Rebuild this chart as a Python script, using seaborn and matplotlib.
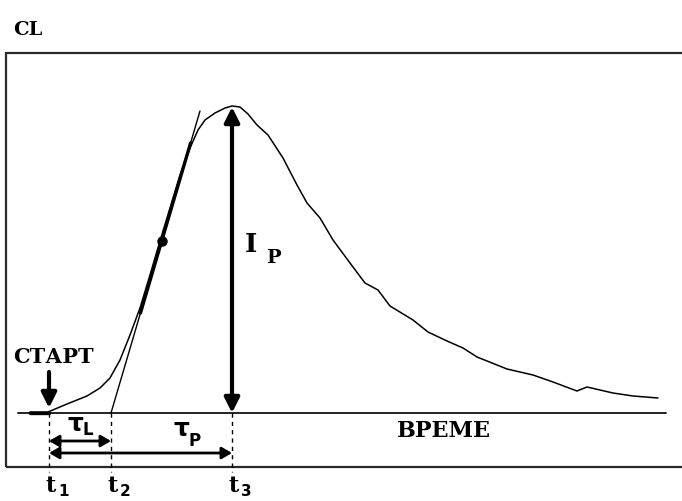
import matplotlib
matplotlib.use("Agg")
import matplotlib.pyplot as plt
from matplotlib.patches import Rectangle, FancyArrowPatch, ArrowStyle
import seaborn as sns
import pandas as pd

# Chemiluminescence kinetic curve (time, CL intensity), baseline at 0
time = [30, 48, 67, 87, 100, 110, 120, 130, 140, 150, 160, 170, 180, 190, 198,
        205, 215, 225, 232, 240, 248, 257, 268, 283, 297, 307, 320, 333, 350,
        365, 378, 390, 413, 428, 447, 463, 477, 507, 533, 553, 577, 587, 613,
        633, 658]
cl = [1, 1, 9, 17, 25, 35, 53, 78, 105, 138, 172, 205, 238, 265, 283,
      293, 300, 305, 307, 306, 299, 288, 278, 255, 228, 210, 195, 173, 150,
      130, 123, 107, 93, 81, 72, 65, 56, 44, 38, 31, 22, 26, 20, 17, 15]

# characteristic times and peak intensity
t1, t2, t3 = 49, 111, 232
ip = 307
# point of maximum slope on the rising edge and the tangent's top end
inflect_cl = 172
tangent_top = (200, 302)

time_labels = ["1", "2", "3"]

sns.set_theme(style="white")
plt.rcParams["font.family"] = ["DejaVu Serif", "DejaVu Sans"]
plt.rcParams["text.color"] = "black"

fig = plt.figure(figsize=(6.82, 5.01), dpi=100)
ax = fig.add_axes([0, 0, 1, 1])
ax.set_xlim(0, 682)
ax.set_ylim(-88, 413)
ax.axis("off")

# frame around the plot area
ax.add_patch(Rectangle((6, -54), 720, 414, fill=False, lw=1.6, ec="#2a2a2a"))

# time axis (baseline)
ax.plot([18, 666], [0, 0], color="#222222", lw=1.4)

# CL curve
df = pd.DataFrame({"time": time, "cl": cl})
sns.lineplot(data=df, x="time", y="cl", ax=ax, color="black", lw=1.1,
             legend=False)
ax.plot([time[0], t1], [0.5, 0.5], color="black", lw=2.4)

# tangent at maximum slope, crossing the baseline at t2
slope = (tangent_top[0] - t2) / tangent_top[1]
ax.plot([t2, tangent_top[0]], [0, tangent_top[1]], color="black", lw=1.0)
y_lo, y_hi = 100, 270
ax.plot([t2 + slope * y_lo, t2 + slope * y_hi], [y_lo, y_hi],
        color="black", lw=2.4)
ax.plot([t2 + slope * inflect_cl], [inflect_cl], "o", color="black", ms=6.5)


def arrow(p0, p1, style, lw, hl, hw):
    ax.add_patch(FancyArrowPatch(
        p0, p1, arrowstyle=ArrowStyle(style, head_length=hl, head_width=hw),
        mutation_scale=10, lw=lw, color="black", shrinkA=0, shrinkB=0))


# peak intensity arrow
arrow((t3, 0), (t3, ip - 1), "<|-|>", 3.0, 0.9, 0.45)

# start marker
ax.text(13, 56, "СТАРТ", ha="left", va="center", fontsize=15,
        fontweight="bold")
arrow((t1, 41), (t1, 5), "-|>", 3.0, 0.9, 0.45)

# dashed drop lines at t1, t2, t3
for t in (t1, t2, t3):
    ax.plot([t, t], [0, -59], color="black", lw=1.0, ls=(0, (3, 3)))

# lag time and time-to-peak intervals
arrow((t1, -28), (t2, -28), "<|-|>", 2.0, 0.6, 0.35)
arrow((t1, -40), (t3, -40), "<|-|>", 2.0, 0.6, 0.35)

ax.text(75, -11, "τ", ha="center", va="center", fontsize=18,
        fontweight="bold", family="DejaVu Sans")
ax.text(88, -17, "L", ha="center", va="center", fontsize=12,
        fontweight="bold", family="DejaVu Sans")
ax.text(181, -16, "τ", ha="center", va="center", fontsize=18,
        fontweight="bold", family="DejaVu Sans")
ax.text(195, -28, "P", ha="center", va="center", fontsize=12,
        fontweight="bold", family="DejaVu Sans")

# time labels
for t, sub in zip((t1, t2, t3), time_labels):
    ax.text(t + 2, -73, "t", ha="center", va="center", fontsize=16,
            fontweight="bold")
    ax.text(t + 9, -79, sub, ha="left", va="center", fontsize=11,
            fontweight="bold", family="DejaVu Sans")

# peak intensity label
ax.text(251, 169, "I", ha="center", va="center", fontsize=19,
        fontweight="bold")
ax.text(273, 155, "P", ha="center", va="center", fontsize=14,
        fontweight="bold")

# axis titles
ax.text(13, 383, "CL", ha="left", va="center", fontsize=14,
        fontweight="bold")
ax.text(397, -18, "ВРЕМЕ", ha="left", va="center", fontsize=16,
        fontweight="bold")

fig.savefig("out.png", dpi=100, facecolor="white")
